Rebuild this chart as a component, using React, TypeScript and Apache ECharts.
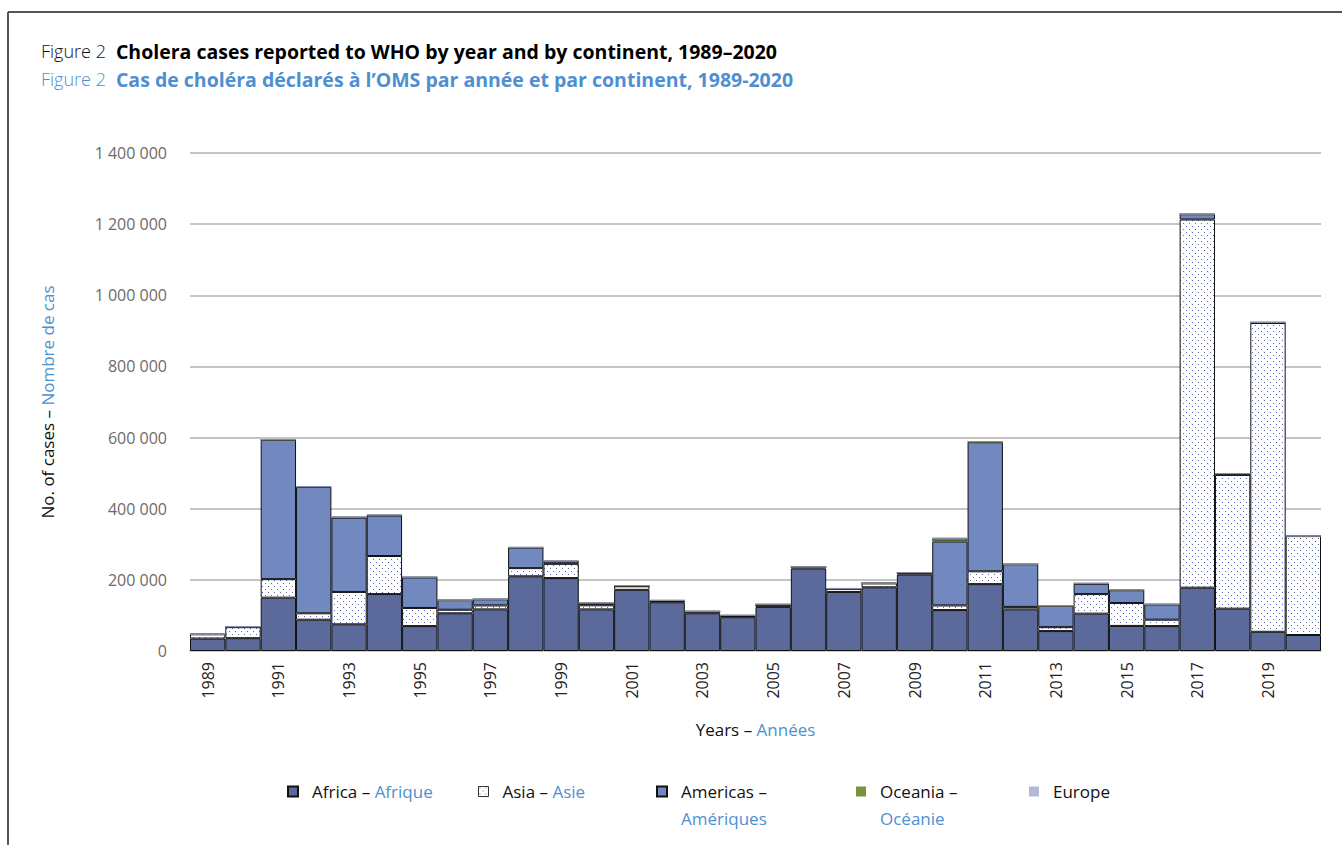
import React, { useEffect, useRef } from "react";
import * as echarts from "echarts";

const years = [
  "1989", "1990", "1991", "1992", "1993", "1994", "1995", "1996", "1997", "1998",
  "1999", "2000", "2001", "2002", "2003", "2004", "2005", "2006", "2007", "2008",
  "2009", "2010", "2011", "2012", "2013", "2014", "2015", "2016", "2017", "2018",
  "2019", "2020",
];

const africa = [
  35000, 36000, 150000, 88000, 75000, 160000, 70000, 106000, 117000, 210000,
  205000, 117000, 172000, 137000, 106000, 95000, 124000, 232000, 166000, 179000,
  215000, 115000, 188000, 117000, 56000, 105000, 70500, 70000, 178000, 119000,
  54000, 45000,
];

const asia = [
  12000, 31000, 52000, 18000, 91000, 107000, 51000, 10000, 11000, 23000,
  40000, 11500, 10000, 3500, 5000, 3500, 6000, 4000, 9000, 11000,
  5000, 13000, 36000, 7000, 11000, 55000, 64500, 18000, 1035000, 376000,
  868000, 278000,
];

const americas = [
  0, 0, 392000, 355000, 209000, 114000, 86000, 27000, 17500, 58000,
  6500, 4500, 500, 500, 300, 200, 100, 200, 500, 500,
  300, 180000, 363000, 120000, 60000, 29000, 36000, 43000, 15000, 3500,
  1500, 0,
];

const oceania = [
  0, 1500, 200, 1000, 1500, 300, 300, 200, 300, 200,
  1500, 2500, 1500, 1500, 300, 2000, 1500, 300, 300, 300,
  300, 9000, 1500, 300, 300, 1500, 1000, 500, 200, 300,
  500, 100,
];

const europe = [
  100, 200, 300, 200, 300, 2500, 1500, 300, 200, 100,
  100, 100, 100, 100, 100, 100, 100, 100, 100, 100,
  100, 100, 100, 100, 100, 100, 100, 100, 100, 100,
  100, 600,
];

const yTicks = [0, 200000, 400000, 600000, 800000, 1000000, 1200000, 1400000];

const BLUE = "#4e8fd1";
const FONT = "'Open Sans', 'Noto Sans', sans-serif";

function dotPattern(): string {
  const c = document.createElement("canvas");
  c.width = 6;
  c.height = 6;
  const ctx = c.getContext("2d")!;
  ctx.fillStyle = "#ffffff";
  ctx.fillRect(0, 0, 6, 6);
  ctx.fillStyle = "#5a6bb0";
  ctx.fillRect(1, 1, 1, 1);
  ctx.fillRect(4, 4, 1, 1);
  return c.toDataURL();
}

function fmt(v: number): string {
  return String(v).replace(/\B(?=(\d{3})+(?!\d))/g, " ");
}

export default function App() {
  const ref = useRef<HTMLDivElement>(null);

  useEffect(() => {
    if (!ref.current) return;
    const chart = echarts.init(ref.current, undefined, { renderer: "svg" });
    const pattern = { image: dotPattern(), repeat: "repeat" };

    const border = { borderColor: "#111111", borderWidth: 1 };

    const mkSeries = (name: string, data: number[], color: any, extra: any = {}) => ({
      name,
      type: "bar",
      stack: "total",
      data,
      barCategoryGap: "0%",
      itemStyle: { color, ...border, ...extra },
      emphasis: { disabled: true },
    });

    const legendBase = (left: number, top: number, name: string, itemStyle: any = {}) => ({
      show: true,
      left,
      top,
      orient: "horizontal",
      data: [name],
      icon: "rect",
      itemWidth: 10,
      itemHeight: 10,
      itemGap: 0,
      selectedMode: false,
      itemStyle,
      textStyle: {
        fontFamily: FONT,
        fontSize: 17,
        color: "#111",
        lineHeight: 27,
        padding: [0, 0, 0, 9],
        rich: {
          a: { fontFamily: FONT, fontSize: 17, color: "#111", lineHeight: 27 },
          b: { fontFamily: FONT, fontSize: 17, color: BLUE, lineHeight: 27 },
        },
      },
    });

    const legendText: Record<string, string> = {
      Africa: "{a|Africa – }{b|Afrique}",
      Asia: "{a|Asia – }{b|Asie}",
      Americas: "\n{a|Americas –}\n{b|Amériques}",
      Oceania: "\n{a|Oceania –}\n{b|Océanie}",
      Europe: "{a|Europe}",
    };

    const legends = [
      legendBase(282, 773, "Africa"),
      legendBase(473, 773, "Asia", { borderColor: "#333", borderWidth: 1 }),
      legendBase(651, 746, "Americas"),
      legendBase(851, 746, "Oceania", { borderWidth: 0 }),
      legendBase(1024, 773, "Europe", { borderWidth: 0 }),
    ].map((l) => ({ ...l, formatter: (n: string) => legendText[n] }));

    chart.setOption({
      animation: false,
      backgroundColor: "#ffffff",
      title: [
        {
          left: 36,
          top: 36,
          text: "{a|Figure 2}  {b|Cholera cases reported to WHO by year and by continent, 1989–2020}",
          textStyle: {
            rich: {
              a: { fontFamily: FONT, fontSize: 18, color: "#111", fontWeight: 300 },
              b: { fontFamily: FONT, fontSize: 19.5, color: "#000", fontWeight: "bold" },
            },
          },
        },
        {
          left: 36,
          top: 64,
          text: "{a|Figure 2}  {b|Cas de choléra déclarés à l’OMS par année et par continent, 1989-2020}",
          textStyle: {
            rich: {
              a: { fontFamily: FONT, fontSize: 18, color: BLUE, fontWeight: 300 },
              b: { fontFamily: FONT, fontSize: 19.5, color: BLUE, fontWeight: "bold" },
            },
          },
        },
      ],
      legend: legends,
      graphic: [
        { type: "line", shape: { x1: 8, y1: 12, x2: 1342, y2: 12 }, style: { stroke: "#555", lineWidth: 2 } },
        { type: "line", shape: { x1: 8, y1: 12, x2: 8, y2: 845 }, style: { stroke: "#555", lineWidth: 2 } },
      ],
      grid: { left: 190, right: 21, top: 153, bottom: 194, containLabel: false },
      xAxis: {
        type: "category",
        data: years,
        name: "{a|Years – }{b|Années}",
        nameLocation: "middle",
        nameGap: 70,
        nameTextStyle: {
          rich: {
            a: { fontFamily: FONT, fontSize: 17, color: "#111" },
            b: { fontFamily: FONT, fontSize: 17, color: BLUE },
          },
        },
        axisLine: { show: true, lineStyle: { color: "#cfcfcf", width: 2 } },
        axisTick: { show: false },
        axisLabel: {
          interval: 1,
          rotate: 90,
          margin: 11,
          fontFamily: FONT,
          fontSize: 16,
          color: "#222",
        },
      },
      yAxis: {
        type: "value",
        min: 0,
        max: 1400000,
        interval: 200000,
        name: "{a|No. of cases – }{b|Nombre de cas}",
        nameLocation: "middle",
        nameGap: 134,
        nameRotate: 90,
        nameTextStyle: {
          rich: {
            a: { fontFamily: FONT, fontSize: 17, color: "#111" },
            b: { fontFamily: FONT, fontSize: 17, color: BLUE },
          },
        },
        axisLine: { show: false },
        axisTick: { show: false },
        splitLine: { show: true, lineStyle: { color: "#b0b0b0", width: 1.5 } },
        axisLabel: {
          margin: 23,
          fontFamily: FONT,
          fontSize: 16,
          color: "#6b6b6b",
          formatter: (v: number) => (yTicks.includes(v) ? fmt(v) : ""),
        },
      },
      series: [
        mkSeries("Africa", africa, "#5b6a9a"),
        mkSeries("Asia", asia, pattern),
        mkSeries("Americas", americas, "#7289bf"),
        mkSeries("Oceania", oceania, "#77933c", { borderColor: "#3d4d1c" }),
        mkSeries("Europe", europe, "#b3b8d3", { borderColor: "#8a8fa8" }),
      ],
    });

    return () => chart.dispose();
  }, []);

  return (
    <div
      ref={ref}
      style={{ position: "fixed", left: 0, top: 0, width: 1342, height: 845 }}
    />
  );
}
